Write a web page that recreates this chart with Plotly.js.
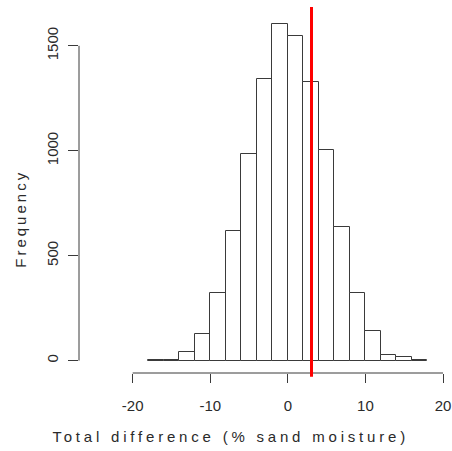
<!DOCTYPE html>
<html>
<head>
<meta charset="utf-8">
<script src="https://cdn.plot.ly/plotly-3.0.1.min.js"></script>
<style>
    html, body { margin: 0; padding: 0; background: #ffffff; }
    #chart { width: 452px; height: 451px; }
    /* R draws its axis titles with wide letter spacing */
    .annotation-text { letter-spacing: 3px; }
    .annotation[data-index="0"] .annotation-text { letter-spacing: 3.8px; }
</style>
</head>
<body>
<div id="chart"></div>
<script>
// Histogram counts, bins of width 2 from -18 to 18
var binCenters = [-17, -15, -13, -11, -9, -7, -5, -3, -1, 1, 3, 5, 7, 9, 11, 13, 15, 17];
var binCounts = [3, 5, 43, 126, 323, 620, 983, 1341, 1605, 1546, 1327, 1003, 635, 323, 139, 25, 16, 4];
var binWidth = 2;

// Observed value (red line)
var observedValue = 3.05;

var xTickVals = [-20, -10, 0, 10, 20];
var yTickVals = [0, 500, 1000, 1500];

var xTitleText = 'Total difference (% sand moisture)';
var yTitleText = 'Frequency';

(function() {
    'use strict';

    var inkColor = '#3a3a3a';
    var font = { family: '"Liberation Sans", Arial, sans-serif', size: 15, color: '#2a2a2a' };

    var bars = {
        type: 'bar',
        x: binCenters,
        y: binCounts,
        width: binCenters.map(function() { return binWidth; }),
        marker: { color: '#ffffff', line: { color: inkColor, width: 1 } },
        hoverinfo: 'x+y',
        showlegend: false
    };

    // R only draws the axis line between the first and last tick
    var xAxisLine = {
        type: 'line', xref: 'x', yref: 'paper',
        x0: xTickVals[0], x1: xTickVals[xTickVals.length - 1], y0: 0, y1: 0,
        line: { color: inkColor, width: 1 }
    };
    var yAxisLine = {
        type: 'line', xref: 'paper', yref: 'y',
        x0: 0, x1: 0, y0: yTickVals[0], y1: yTickVals[yTickVals.length - 1],
        line: { color: inkColor, width: 1 }
    };
    var observedLine = {
        type: 'line', xref: 'x', yref: 'paper',
        x0: observedValue, x1: observedValue, y0: -0.01, y1: 1,
        line: { color: '#ff0000', width: 3 }
    };

    var layout = {
        width: 452,
        height: 451,
        margin: { l: 79, r: 0, t: 7, b: 78 },
        paper_bgcolor: '#ffffff',
        plot_bgcolor: '#ffffff',
        font: font,
        bargap: 0,
        xaxis: {
            range: [-26.92, 21.16],
            tickvals: xTickVals,
            ticktext: xTickVals.map(String),
            ticks: 'outside',
            ticklen: 9,
            tickcolor: inkColor,
            ticklabelstandoff: 10,
            showline: false,
            showgrid: false,
            zeroline: false,
            fixedrange: true
        },
        yaxis: {
            range: [-59, 1685],
            tickvals: yTickVals,
            ticktext: yTickVals.map(String),
            tickangle: -90,
            ticks: 'outside',
            ticklen: 10,
            tickcolor: inkColor,
            ticklabelstandoff: 4,
            showline: false,
            showgrid: false,
            zeroline: false,
            fixedrange: true
        },
        shapes: [xAxisLine, yAxisLine, observedLine],
        annotations: [
            {
                text: xTitleText, xref: 'paper', yref: 'paper',
                x: 0.405, y: -0.174, xanchor: 'center', yanchor: 'middle',
                showarrow: false, font: font
            },
            {
                text: yTitleText, xref: 'paper', yref: 'paper',
                x: -0.156, y: 0.421, xanchor: 'center', yanchor: 'middle',
                textangle: -90, showarrow: false, font: font
            }
        ]
    };

    Plotly.newPlot('chart', [bars], layout, { displayModeBar: false, responsive: false });
})();
</script>
</body>
</html>
